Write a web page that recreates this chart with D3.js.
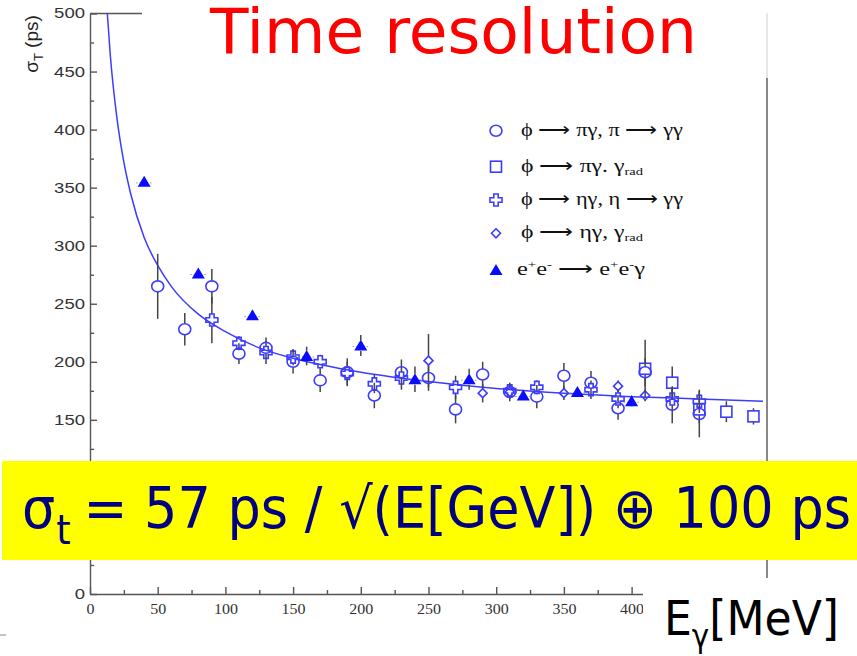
<!DOCTYPE html>
<html><head><meta charset="utf-8">
<script src="https://cdn.jsdelivr.net/npm/d3@7/dist/d3.min.js"></script>
<style>body{margin:0;background:#fff}svg{display:block}</style>
</head><body>
<script>
// ---- data (E in MeV, sigma in ps) ----
const xTicks = [0,50,100,150,200,250,300,350,400,450,500];
const yTicks = [0,50,100,150,200,250,300,350,400,450,500];
const xMinor = [25,75,125,175,225,275,325,375,425,475];
const yMinor = [25,75,125,175,225,275,325,375,425,475];

// phi -> pi gamma, pi -> gamma gamma  (open circles)
const piGG = [
  {e:50,s:265,err:28},{e:70,s:228,err:14},{e:90,s:265,err:15},{e:110,s:207,err:9},
  {e:130,s:212,err:9},{e:150,s:200,err:10},{e:170,s:184,err:10},{e:190,s:191,err:12},
  {e:210,s:171,err:11},{e:230,s:191,err:11},{e:250,s:186,err:11},{e:270,s:159,err:12},
  {e:290,s:189,err:11},{e:310,s:174,err:8},{e:330,s:170,err:10},{e:350,s:188,err:11},
  {e:370,s:182,err:10},{e:390,s:160,err:10},{e:410,s:191,err:12},{e:430,s:163,err:16},
  {e:450,s:155,err:20}
];
// phi -> pi gamma, gamma_rad (open squares)
const piRad = [
  {e:410,s:194,err:25},{e:430,s:182,err:14},{e:450,s:159,err:12},{e:470,s:157,err:9},{e:490,s:153,err:7}
];
// phi -> eta gamma, eta -> gamma gamma (open crosses)
const etaGG = [
  {e:90,s:236,err:20},{e:110,s:216,err:6},{e:130,s:208,err:10},{e:150,s:204,err:7},
  {e:170,s:200,err:6},{e:190,s:190,err:10},{e:210,s:181,err:8},{e:230,s:186,err:10},
  {e:270,s:178,err:10},{e:310,s:175,err:6},{e:330,s:178,err:6},{e:370,s:176,err:8},
  {e:390,s:168,err:8},{e:430,s:168,err:10},{e:450,s:166,err:10}
];
// phi -> eta gamma, gamma_rad (small open diamonds)
const etaRad = [
  {e:250,s:201,err:23},{e:290,s:173,err:8},{e:310,s:174,err:6},{e:350,s:173,err:6},
  {e:390,s:179,err:5},{e:410,s:171,err:5}
];
// e+e- -> e+e- gamma (filled triangles)
const eeG = [
  {e:40,s:355,err:0},{e:80,s:276,err:0},{e:120,s:240,err:0},{e:160,s:205,err:8},
  {e:200,s:214,err:9},{e:240,s:185,err:11},{e:280,s:185,err:9},{e:320,s:171,err:4},
  {e:360,s:174,err:3},{e:400,s:166,err:5}
];
// fit curve
const fitE     = [12.8,15,20,25,30,40,50,60,80,100,125,150,200,250,300,350,400,450,497];
const fitSigma = [500,464,409,372,345,307,283,265,241,226,212,203,191,183,177,173,170,168,166];

const legendKinds = ["circle","square","cross","diamond","triangle"];

// ---- drawing ----
const W = 857, H = 656;
const svg = d3.select("body").append("svg").attr("width", W).attr("height", H);
const x = d3.scaleLinear().domain([0,500]).range([90,767]);
const y = d3.scaleLinear().domain([0,500]).range([594,13.5]);
const BLUE = "#3c3cff", FILL_BLUE = "#0a0aff", AX = "#555";

// axes
const gy = svg.append("g").attr("transform","translate(90,0)")
  .call(d3.axisLeft(y).tickValues(yTicks).tickSizeInner(-7).tickSizeOuter(0).tickPadding(5));
const gym = svg.append("g").attr("transform","translate(90,0)")
  .call(d3.axisLeft(y).tickValues(yMinor).tickSize(-4).tickFormat(""));
gym.select(".domain").remove();
const gx = svg.append("g").attr("transform","translate(0,594)")
  .call(d3.axisBottom(x).tickValues(xTicks).tickSizeInner(-7).tickSizeOuter(0).tickPadding(10));
const gxm = svg.append("g").attr("transform","translate(0,594)")
  .call(d3.axisBottom(x).tickValues(xMinor).tickSize(-4).tickFormat(""));
gxm.select(".domain").remove();
[gy,gym,gx,gxm].forEach(g=>{
  g.selectAll("path,line").attr("stroke",AX).attr("stroke-width",1.4);
});
gy.selectAll("text").attr("font-family","Liberation Sans").attr("font-size",14).attr("fill","#333")
  .attr("textLength",d=>String(d).length*10.3).attr("lengthAdjust","spacingAndGlyphs");
gx.selectAll("text").attr("font-family","Liberation Serif").attr("font-size",14).attr("fill","#333")
  .attr("textLength",d=>String(d).length*8).attr("lengthAdjust","spacingAndGlyphs");

// frame pieces
svg.append("line").attr("x1",x(0)).attr("x2",142).attr("y1",y(500)).attr("y2",y(500))
  .attr("stroke",AX).attr("stroke-width",1.4);
svg.append("line").attr("x1",x(500)).attr("x2",x(500)).attr("y1",78).attr("y2",578)
  .attr("stroke",AX).attr("stroke-width",1.4);
svg.append("line").attr("x1",x(500)).attr("x2",x(500)).attr("y1",y(500)).attr("y2",78)
  .attr("stroke","#ccc").attr("stroke-width",1);

// y axis title
const yl = svg.append("text").attr("transform","translate(38,44) rotate(-90)")
  .attr("text-anchor","middle").attr("font-family","Liberation Sans").attr("font-size",19).attr("fill","#222");
yl.append("tspan").text("σ");
yl.append("tspan").attr("font-size",13).attr("dy",5).text("T");
yl.append("tspan").attr("dy",-5).text(" (ps)");

// fit curve
const line = d3.line().x(d=>x(d[0])).y(d=>y(d[1])).curve(d3.curveMonotoneX);
svg.append("path").datum(fitE.map((e,i)=>[e,fitSigma[i]]))
  .attr("d",line).attr("fill","none").attr("stroke",BLUE).attr("stroke-width",1.5);

// marker shapes
const shapes = {
  circle: g=>g.append("ellipse").attr("rx",6).attr("ry",5.5),
  square: g=>g.append("rect").attr("x",-5.5).attr("y",-5.5).attr("width",11).attr("height",11),
  cross: g=>g.append("path").attr("d","M-2.2,-6H2.2V-2.2H6V2.2H2.2V6H-2.2V2.2H-6V-2.2H-2.2Z"),
  diamond: g=>g.append("path").attr("d","M0,-4.5L4.5,0L0,4.5L-4.5,0Z"),
  triangle: g=>g.append("path").attr("d","M0,-6L6.5,5L-6.5,5Z")
};
const half = {circle:5.5, square:5.5, cross:6, diamond:4.5, triangle:5.5};

function drawSeries(data, kind){
  const g = svg.append("g");
  const withErr = data.filter(d=>d.err>0);
  // error bars (drawn outside the marker)
  g.selectAll("line.up").data(withErr).join("line").attr("class","up")
    .attr("x1",d=>x(d.e)).attr("x2",d=>x(d.e))
    .attr("y1",d=>y(d.s+d.err)).attr("y2",d=>Math.max(y(d.s)-half[kind], y(d.s+d.err)))
    .attr("stroke","#444").attr("stroke-width",1.5);
  g.selectAll("line.dn").data(withErr).join("line").attr("class","dn")
    .attr("x1",d=>x(d.e)).attr("x2",d=>x(d.e))
    .attr("y1",d=>Math.min(y(d.s)+half[kind], y(d.s-d.err))).attr("y2",d=>y(d.s-d.err))
    .attr("stroke","#444").attr("stroke-width",1.5);
  if(kind==="triangle"){
    g.selectAll("line.h").data(data).join("line").attr("class","h")
      .attr("x1",d=>x(d.e-6)).attr("x2",d=>x(d.e+6)).attr("y1",d=>y(d.s)+1).attr("y2",d=>y(d.s)+1)
      .attr("stroke","#999").attr("stroke-width",1).attr("stroke-dasharray","1.5,2");
  }
  g.selectAll("g.m").data(data).join("g").attr("class","m")
    .attr("transform",d=>`translate(${x(d.e)},${y(d.s)})`)
    .each(function(){
      const m = shapes[kind](d3.select(this));
      if(kind==="triangle") m.attr("fill",FILL_BLUE).attr("stroke","none");
      else m.attr("fill","none").attr("stroke",BLUE).attr("stroke-width",1.6);
    });
}
drawSeries(etaRad,"diamond");
drawSeries(etaGG,"cross");
drawSeries(piRad,"square");
drawSeries(piGG,"circle");
drawSeries(eeG,"triangle");

// legend
const legY = [130.7,166.7,200,233.3,270];
const legLen = [162,122,162,122,128];
const lg = svg.append("g");
legendKinds.forEach((k,i)=>{
  const g = lg.append("g").attr("transform",`translate(496,${legY[i]})`);
  const m = shapes[k](g);
  if(k==="triangle") m.attr("fill",FILL_BLUE);
  else m.attr("fill","none").attr("stroke",BLUE).attr("stroke-width",1.6);
});
function legText(i){
  return lg.append("text").attr("x",i===4?517:521).attr("y",legY[i]+5)
    .attr("font-family","Liberation Serif").attr("font-size",18).attr("fill","#111")
    .attr("textLength",legLen[i]).attr("lengthAdjust","spacingAndGlyphs");
}
legText(0).text("ϕ ⟶ πγ, π ⟶ γγ");
{const t=legText(1); t.append("tspan").text("ϕ ⟶ πγ. γ"); t.append("tspan").attr("font-size",11).attr("dy",3).text("rad");}
legText(2).text("ϕ ⟶ ηγ, η ⟶ γγ");
{const t=legText(3); t.append("tspan").text("ϕ ⟶ ηγ, γ"); t.append("tspan").attr("font-size",11).attr("dy",3).text("rad");}
{const t=legText(4);
  t.append("tspan").text("e"); t.append("tspan").attr("font-size",11).attr("dy",-7).text("+");
  t.append("tspan").attr("dy",7).text("e"); t.append("tspan").attr("font-size",11).attr("dy",-7).text("-");
  t.append("tspan").attr("dy",7).text(" ⟶ e"); t.append("tspan").attr("font-size",11).attr("dy",-7).text("+");
  t.append("tspan").attr("dy",7).text("e"); t.append("tspan").attr("font-size",11).attr("dy",-7).text("-");
  t.append("tspan").attr("dy",7).text("γ");
}

// title
svg.append("text").attr("x",210).attr("y",53)
  .attr("font-family","DejaVu Sans").attr("font-size",62).attr("fill","#ff0000")
  .attr("textLength",487).attr("lengthAdjust","spacingAndGlyphs").text("Time resolution");

// yellow formula box
svg.append("rect").attr("x",2).attr("y",461).attr("width",855).attr("height",99).attr("fill","#ffff00");
const ft = svg.append("text").attr("x",22).attr("y",528).attr("font-family","DejaVu Sans").attr("font-size",57)
  .attr("fill","#000080").attr("textLength",829).attr("lengthAdjust","spacingAndGlyphs");
ft.append("tspan").text("σ");
ft.append("tspan").attr("font-size",40).attr("dy",16).attr("dx",1).text("t");
ft.append("tspan").attr("dy",-16).attr("dx",14).text("= 57 ps / √(E[GeV]) ⊕ 100 ps");

// x axis title box
svg.append("rect").attr("x",643).attr("y",578).attr("width",214).attr("height",78).attr("fill","#fff");
const xt = svg.append("text").attr("x",664).attr("y",635).attr("font-family","DejaVu Sans").attr("font-size",48)
  .attr("fill","#000").attr("textLength",175).attr("lengthAdjust","spacingAndGlyphs");
xt.append("tspan").text("E");
xt.append("tspan").attr("font-size",32).attr("dy",12).text("γ");
xt.append("tspan").attr("dy",-12).text("[MeV]");

// small stray dash at bottom-left
svg.append("line").attr("x1",0).attr("x2",6).attr("y1",635).attr("y2",635).attr("stroke","#888").attr("stroke-width",1);
</script>
</body></html>
